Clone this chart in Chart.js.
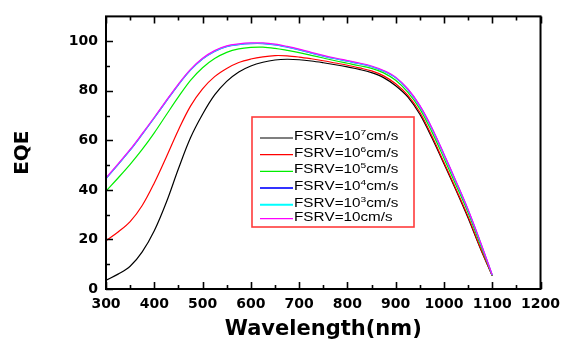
<!DOCTYPE html>
<html><head><meta charset="utf-8">
<script src="https://cdn.jsdelivr.net/npm/chart.js@4.4.1/dist/chart.umd.min.js"></script>
<style>html,body{margin:0;padding:0;background:#fff;}canvas{display:block;}</style>
</head><body>
<canvas id="c" width="567" height="345"></canvas>
<script>
// ---- data ----
const wavelength = [300,325,350,375,400,425,450,475,500,525,550,575,600,625,650,675,700,725,750,775,800,825,850,875,900,925,950,975,1000,1025,1050,1075,1100];
const eqe_1e7 = [3.5,6.0,9.2,15.0,23.5,35.0,48.5,61.0,70.5,78.3,83.8,87.6,90.0,91.5,92.4,92.7,92.5,92.0,91.3,90.5,89.6,88.6,87.3,85.3,82.0,77.5,70.5,61.0,50.5,39.8,28.6,16.5,5.3];
const eqe_1e6 = [19.5,23.0,27.2,33.7,42.8,53.3,64.2,73.8,80.8,85.7,89.0,91.4,92.8,93.7,94.2,94.1,93.6,92.9,92.1,91.2,90.3,89.2,88.0,86.0,82.8,78.2,71.3,61.7,51.0,40.3,29.2,16.8,5.4];
const eqe_1e5 = [39.5,44.8,50.3,56.3,63.0,70.3,77.5,84.2,89.3,93.0,95.5,96.9,97.5,97.6,97.1,96.3,95.4,94.3,93.2,92.1,91.1,90.1,89.0,87.2,84.2,79.4,72.7,63.4,52.8,41.9,30.8,18.0,5.5];
const eqe_1e4 = [44.5,50.2,56.0,62.4,69.0,75.8,82.4,88.3,92.8,95.9,97.8,98.6,99.0,99.0,98.5,97.6,96.5,95.2,94.0,92.9,91.9,90.9,89.7,87.9,85.2,80.5,73.8,64.8,54.2,43.2,31.8,19.0,5.6];
const eqe_1e3 = [44.6,50.3,56.1,62.5,69.1,75.9,82.5,88.4,92.9,96.0,97.9,98.7,99.1,99.1,98.6,97.7,96.6,95.3,94.1,93.0,92.0,91.0,89.8,88.0,85.3,80.6,73.9,64.9,54.3,43.3,31.9,19.1,5.6];
const eqe_10 = [44.8,50.5,56.3,62.7,69.3,76.1,82.7,88.6,93.1,96.2,98.1,98.9,99.3,99.3,98.8,97.9,96.8,95.5,94.3,93.2,92.2,91.2,90.0,88.2,85.5,80.8,74.1,65.1,54.5,43.5,32.1,19.3,5.7];
const seriesLabels = ['FSRV=10⁷cm/s','FSRV=10⁶cm/s','FSRV=10⁵cm/s','FSRV=10⁴cm/s','FSRV=10³cm/s','FSRV=10cm/s'];
const seriesColors = ['#000000','#ff0000','#00ee00','#3333ff','#00ffff','#ff00ff'];
const xTickValues = [300,400,500,600,700,800,900,1000,1100,1200];
const yTickValues = [0,20,40,60,80,100];
const xTitle = 'Wavelength(nm)';
const yTitle = 'EQE';

const seriesValues = [eqe_1e7, eqe_1e6, eqe_1e5, eqe_1e4, eqe_1e3, eqe_10];

const datasets = seriesValues.map((vals, i) => ({
  label: seriesLabels[i],
  data: vals.map((v, k) => ({x: wavelength[k], y: v})),
  borderColor: seriesColors[i],
  backgroundColor: seriesColors[i],
  borderWidth: 1.2,
  pointRadius: 0,
  fill: false,
  tension: 0.35,
  order: seriesValues.length - i
}));

const supMap = {'⁰':'0','¹':'1','²':'2','³':'3','⁴':'4','⁵':'5','⁶':'6','⁷':'7','⁸':'8','⁹':'9'};

const framePlugin = {
  id: 'frame',
  afterDatasetsDraw(chart) {
    const {ctx, chartArea: a, scales: {x, y}} = chart;
    ctx.save();
    ctx.strokeStyle = '#000';
    ctx.lineWidth = 2;
    ctx.strokeRect(a.left, a.top, a.right - a.left, a.bottom - a.top);
    ctx.lineWidth = 1.6;
    ctx.beginPath();
    for (let v = 0; v <= 100; v += 10) {
      const py = Math.round(y.getPixelForValue(v)) + 0.5;
      const len = (v % 20 === 0) ? 7 : 4;
      ctx.moveTo(a.left, py); ctx.lineTo(a.left + len, py);
    }
    for (let v = 300; v <= 1200; v += 50) {
      const px = Math.round(x.getPixelForValue(v)) + 0.5;
      const len = (v % 100 === 0) ? 7 : 4;
      ctx.moveTo(px, a.bottom); ctx.lineTo(px, a.bottom - len);
      ctx.moveTo(px, a.top); ctx.lineTo(px, a.top + len);
    }
    ctx.stroke();

    const box = {x: 252, y: 117, w: 162, h: 110};
    ctx.strokeStyle = '#ff3b3b';
    ctx.lineWidth = 1.6;
    ctx.strokeRect(box.x, box.y, box.w, box.h);
    const baselines = [140, 156.7, 173.3, 190, 206.7, 220.7];
    chart.data.datasets.forEach((ds, i) => {
      const b = baselines[i];
      ctx.strokeStyle = ds.borderColor;
      ctx.lineWidth = (i === 3 || i === 4) ? 2 : 1.2;
      ctx.beginPath();
      ctx.moveTo(260, b - 2); ctx.lineTo(293, b - 2);
      ctx.stroke();
      ctx.save();
      ctx.translate(294, b);
      ctx.scale(1.27, 1);
      ctx.fillStyle = '#000';
      ctx.textBaseline = 'alphabetic';
      ctx.textAlign = 'left';
      let cx = 0;
      for (const ch of ds.label) {
        if (supMap[ch]) {
          ctx.font = '8px "Liberation Sans", Arial, sans-serif';
          ctx.fillText(supMap[ch], cx, -5);
          cx += ctx.measureText(supMap[ch]).width;
        } else {
          ctx.font = '12px "Liberation Sans", Arial, sans-serif';
          ctx.fillText(ch, cx, 0);
          cx += ctx.measureText(ch).width;
        }
      }
      ctx.restore();
    });
    ctx.restore();
  }
};

new Chart(document.getElementById('c'), {
  type: 'line',
  data: {datasets},
  options: {
    responsive: false,
    animation: false,
    devicePixelRatio: 1,
    layout: {padding: {top: 12, right: 21, left: 0, bottom: 0}},
    plugins: {legend: {display: false}, tooltip: {enabled: false}},
    scales: {
      x: {
        type: 'linear', min: 300, max: 1200,
        afterBuildTicks: s => { s.ticks = xTickValues.map(v => ({value: v})); },
        afterFit: s => { s.height = 56; },
        grid: {display: false, drawTicks: false},
        border: {display: false},
        ticks: {autoSkip: false, maxRotation: 0, padding: 7, color: '#000',
                callback: v => String(v),
                font: {family: 'DejaVu Sans', weight: 'bold', size: 14}},
        title: {display: true, text: xTitle, color: '#000',
                font: {family: 'DejaVu Sans', weight: 'bold', size: 21},
                padding: {top: 0, bottom: 3}}
      },
      y: {
        type: 'linear', min: 0, max: 110,
        afterBuildTicks: s => { s.ticks = yTickValues.map(v => ({value: v})); },
        afterFit: s => { s.width = 106; },
        grid: {display: false, drawTicks: false},
        border: {display: false},
        ticks: {padding: 8, color: '#000', callback: v => String(v),
                font: {family: 'DejaVu Sans', weight: 'bold', size: 14}},
        title: {display: true, text: yTitle, color: '#000',
                font: {family: 'DejaVu Sans', weight: 'bold', size: 20},
                padding: {top: 11, bottom: 0}}
      }
    }
  },
  plugins: [framePlugin]
});
</script>
</body></html>
